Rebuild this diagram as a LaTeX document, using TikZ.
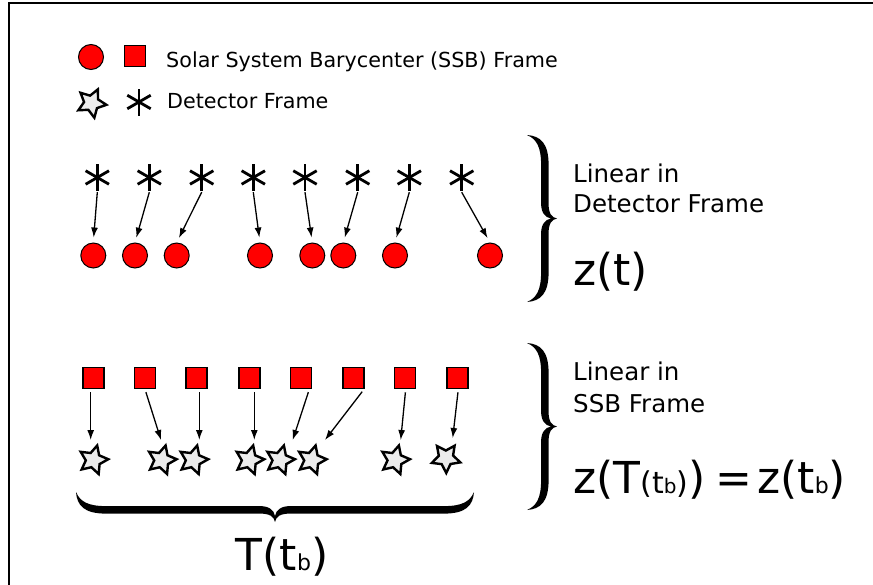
\documentclass[tikz,border=0pt]{standalone}
\usepackage{fontspec}
\setmainfont{DejaVu Sans}
\usetikzlibrary{arrows.meta,shapes.geometric}
\tikzset{ssbc/.style={draw,circle,fill=red,line width=1pt,minimum size=25pt,inner sep=0pt},ssbs/.style={draw,rectangle,fill=red,line width=1.6pt,minimum size=21pt,inner sep=0pt},
det/.style={draw,star,star points=5,star point ratio=2,fill=gray!15,line width=2.4pt,minimum size=30pt,inner sep=0pt,shape border rotate=-15},
ast/.style={minimum size=29pt,inner sep=0pt,path picture={\foreach\a in{90,30,150}\draw[line width=2.8pt,shift={(path picture bounding box.center)}](\a:13.5pt)--(\a+180:13.5pt);}},
arr/.style={-{Latex[length=10pt,width=7pt]},line width=1.3pt},txt/.style={anchor=base west,inner sep=0pt},
pics/cbrace/.style 2 args={code={\fill(0,#1)..controls({0.45*#2},{#1-1})and({0.72*#2},{#1-8})..({0.72*#2},{#1-30})--({0.72*#2},15)..controls({0.72*#2},5)and({0.82*#2},1)..({#2},0)
..controls({0.82*#2},-1)and({0.72*#2},-5)..({0.72*#2},-15)--({0.72*#2},{-#1+30})..controls({0.72*#2},{-#1+8})and({0.45*#2},{-#1+1})..(0,{-#1})
..controls({0.32*#2},{-#1+4})and({0.47*#2},{-#1+12})..({0.47*#2},{-#1+30})--({0.47*#2},-15)..controls({0.47*#2},-6)and({0.6*#2},-1)..({0.8*#2},0)
..controls({0.6*#2},1)and({0.47*#2},6)..({0.47*#2},15)--({0.47*#2},{#1-30})..controls({0.47*#2},{#1-12})and({0.32*#2},{#1-4})..(0,{#1})--cycle;}}}

\begin{document}
\begin{tikzpicture}[x=1pt,y=-1pt]
\useasboundingbox(0,0)rectangle(873,584);
\draw[line width=2pt](9,600)--(9,2.5)--(890,2.5);
\node[ssbc](lc)at(91,57){};\node[ssbs](ls)at(135,56){};
\node[det,shape border rotate=-25](lt)at(91.5,103){};\node[ast,minimum size=26pt](la)at(139,102){};
\node[txt,font=\fontsize{20.7}{24}\selectfont](lg1)at(166,67){Solar System Barycenter (SSB) Frame};
\node[txt,font=\fontsize{20.7}{24}\selectfont](lg2)at(167,108){Detector Frame};
\foreach\i/\x in{1/97.3,2/149.3,3/201.7,4/253.3,5/305,6/357.7,7/409.3,8/461.7}\node[ast](a\i)at(\x,177.5){};
\foreach\i/\x in{1/93.3,2/135,3/176.7,4/260,5/312.3,6/343.3,7/395,8/490}\node[ssbc](c\i)at(\x,255.5){};
\foreach\i in{1,...,8}\draw[arr,shorten >=5pt](a\i.south)--(c\i.north);
\foreach\i/\x in{1/93.3,2/145,3/196.7,4/249.3,5/301,6/353.3,7/405,8/457.7}\node[ssbs](s\i)at(\x,378){};
\foreach\i/\x in{1/93.3,2/161.7,3/193.3,4/249.3,5/280,6/311.7,7/395}\node[det](t\i)at(\x,460){};
\node[det,shape border rotate=-35](t8)at(446,458){};
\foreach\i/\p/\q in{1/-2.6/-2.6,2/0/-0.7,3/2.6/6,4/5/5,5/8.3/12.7,6/10.7/13.3,7/0.7/5.7,8/0.6/6.7}\draw[arr,shorten <=3pt]([xshift=\p pt]s\i.south)--([xshift=\q pt,yshift=20pt]t\i.center);
\pic at(527,218.5){cbrace={83.5}{30}};
\pic at(527,426.5){cbrace={83.5}{30}};
\pic[rotate=-90]at(275,492){cbrace={199}{30}};
\node[txt,font=\fontsize{24.5}{30}\selectfont](lin1)at(573,182){Linear in};
\node[txt,font=\fontsize{24.5}{30}\selectfont](lin2)at(573,212){Detector Frame};
\node[txt,font=\fontsize{44}{50}\selectfont](zt)at(573,285){z(t)};
\node[txt,font=\fontsize{24.5}{30}\selectfont](lin3)at(573,380){Linear in};
\node[txt,font=\fontsize{24.5}{30}\selectfont](lin4)at(573,412){SSB Frame};
\node[txt,font=\fontsize{44}{50}\selectfont](zT)at(573,493){z(T{\fontsize{30}{34}\selectfont(t{\fontsize{20}{24}\selectfont b})})\hspace{10pt}=\hspace{5pt}z(t{\fontsize{22}{26}\selectfont b})};
\node[anchor=base,inner sep=0pt,font=\fontsize{44}{50}\selectfont](Tt)at(282,570){T(t{\fontsize{22}{26}\selectfont b})};
\end{tikzpicture}
\end{document}
